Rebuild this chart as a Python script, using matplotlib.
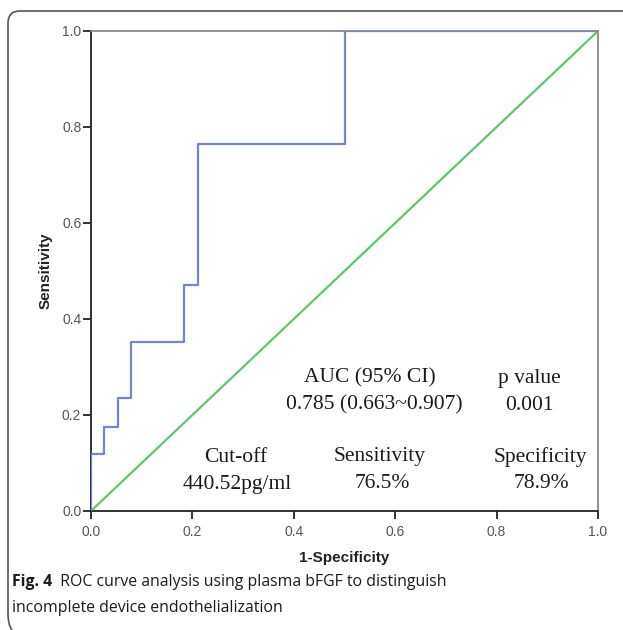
import matplotlib
matplotlib.use("Agg")
import matplotlib.pyplot as plt
from matplotlib.path import Path
from matplotlib.patches import PathPatch

# ROC step curve (1-specificity, sensitivity)
fpr = [0.0, 0.0, 0.026, 0.026, 0.053, 0.053, 0.079, 0.079, 0.184, 0.184, 0.211, 0.211, 0.5, 0.5, 1.0]
tpr = [0.0, 0.118, 0.118, 0.176, 0.176, 0.235, 0.235, 0.353, 0.353, 0.471, 0.471, 0.765, 0.765, 1.0, 1.0]
ref_line = [0.0, 1.0]
ticks = [0.0, 0.2, 0.4, 0.6, 0.8, 1.0]
tick_labels = ["0.0", "0.2", "0.4", "0.6", "0.8", "1.0"]

stats_header = ["AUC (95% CI)", "p value"]
stats_values = ["0.785 (0.663~0.907)", "0.001"]
cut_header = ["Cut-off", "Sensitivity", "Specificity"]
cut_values = ["440.52pg/ml", "76.5%", "78.9%"]
caption_bold = "Fig. 4"
caption_text = "  ROC curve analysis using plasma bFGF to distinguish"
caption_line2 = "incomplete device endothelialization"

sans = "Liberation Sans"
serif = "Liberation Serif"

fig = plt.figure(figsize=(6.23, 6.30), dpi=100)
ax = fig.add_axes([91/623, 1-511/630, 507/623, 480/630])

ax.plot(ref_line, ref_line, color="#5cc86a", lw=1.6, zorder=2)
ax.plot(fpr, tpr, color="#7386d0", lw=1.6, zorder=3)
ax.set_xlim(0, 1)
ax.set_ylim(0, 1)
ax.set_xticks(ticks)
ax.set_yticks(ticks)
ax.set_xticklabels(tick_labels, family=sans)
ax.set_yticklabels(tick_labels, family=sans)
ax.tick_params(direction="out", length=6, width=1.3, labelsize=10, colors="#222222",
               labelcolor="#555555")
ax.tick_params(axis="y", pad=1)
ax.tick_params(axis="x", pad=4)
for s in ["left", "bottom"]:
    ax.spines[s].set_color("#222222")
    ax.spines[s].set_linewidth(1.3)
for s in ["top", "right"]:
    ax.spines[s].set_color("#888888")
    ax.spines[s].set_linewidth(1.3)

ax.set_xlabel("1-Specificity", fontsize=11, fontweight="bold", family=sans, labelpad=9,
              color="#222222")
ax.set_ylabel("Sensitivity", fontsize=11, fontweight="bold", family=sans, labelpad=7,
              color="#222222")

def px(x, y):
    return ((x - 91) / 507, (511 - y) / 480)

fs = 15.5
# (header centre x, value centre x, header, value)
rows_top = [(370, 374, stats_header[0], stats_values[0]), (529, 529, stats_header[1], stats_values[1])]
rows_bot = [(236, 237, cut_header[0], cut_values[0]), (380, 382, cut_header[1], cut_values[1]),
            (540, 541, cut_header[2], cut_values[2])]
for (hx, vx, label, val) in rows_top:
    ax.text(*px(hx, 378), label, ha="center", va="center", fontsize=fs, family=serif, color="#1a1a1a")
    ax.text(*px(vx, 405), val, ha="center", va="center", fontsize=fs, family=serif, color="#1a1a1a")
for (hx, vx, label, val) in rows_bot:
    ax.text(*px(hx, 457), label, ha="center", va="center", fontsize=fs, family=serif, color="#1a1a1a")
    ax.text(*px(vx, 484), val, ha="center", va="center", fontsize=fs, family=serif, color="#1a1a1a")

# Caption
cfs = 11.4
t = fig.text(12/623, 1-582/630, caption_bold, fontsize=cfs, fontweight="bold",
             family="Open Sans", va="center", ha="left", color="#1a1a1a")
fig.canvas.draw()
bb = t.get_window_extent()
fig.text(bb.x1/623, 1-582/630, caption_text, fontsize=cfs, family="Open Sans",
         va="center", ha="left", color="#1a1a1a")
fig.text(12/623, 1-608/630, caption_line2, fontsize=cfs, family="Open Sans",
         va="center", ha="left", color="#1a1a1a")

# Outer rounded border (top and left)
W, H = 623, 630
r = 12
verts = [(W/W, 1-11/H), ((8+r)/W, 1-11/H), (8/W, 1-11/H), (8/W, 1-(11+r)/H),
         (8/W, 1-(625-r)/H), (8/W, 1-625/H), (12/W, 1-630/H)]
codes = [Path.MOVETO, Path.LINETO, Path.CURVE3, Path.CURVE3, Path.LINETO, Path.CURVE3, Path.CURVE3]
fig.patches.append(PathPatch(Path(verts, codes), transform=fig.transFigure,
                             fill=False, edgecolor="#555555", lw=1.2))

fig.savefig("out.png", dpi=100)
